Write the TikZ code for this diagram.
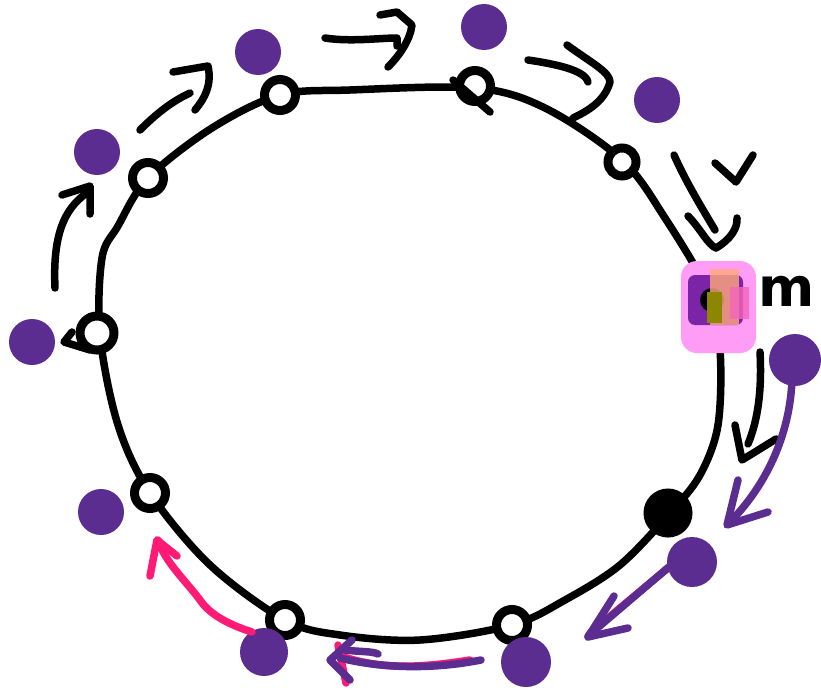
\documentclass[tikz,border=0pt]{standalone}
\usepackage{fontspec}
\setmainfont{DejaVu Sans}
\definecolor{blobc}{HTML}{5B2D91}
\definecolor{hotpink}{HTML}{FF1A75}
\definecolor{hilite}{HTML}{FF9CF5}
\begin{document}
\begin{tikzpicture}[x=1pt,y=-1pt,
  pen/.style={line width=7.5pt,line cap=round,line join=round},
  ink/.style={pen,black},
  vio/.style={pen,blobc},
  pinkpen/.style={pen,hotpink},
  stop/.style={circle,draw=black,line width=9pt,minimum size=31pt,inner sep=0pt,fill=white},
  blob/.style={circle,fill=blobc,minimum size=46pt,inner sep=0pt},
]
\useasboundingbox (0,0) rectangle (821,690);
\fill[white] (0,0) rectangle (821,690);

% ring
\draw[ink] plot[smooth cycle,tension=0.55] coordinates {
 (148,178) (212,128) (280,95) (350,90) (475,88) (545,108) (622,160)
 (665,218) (708,292) (720,350) (718,425) (700,475) (670,513)
 (620,565) (565,600) (512,625) (420,640) (340,635) (285,620)
 (210,565) (150,493) (118,425) (100,335) (102,258) (118,226)};

% highlight of stop m
\fill[hilite,rounded corners=16pt] (681,261) rectangle (756,353);
\fill[blobc!80!magenta,rounded corners=7pt] (688,275) rectangle (743,325);
\fill[black] (712,300) circle (12pt);
\fill[orange!35!pink,opacity=0.8] (710,269) rectangle (739,325);
\fill[olive] (707,292) rectangle (722,323);
\fill[magenta!60,opacity=0.8] (730,287) rectangle (749,319);
\node[font=\fontsize{54}{54}\selectfont\bfseries,inner sep=0pt] (mlabel) at (787,291) {m};

% stops on the ring
\node[stop] (s1) at (148,178) {};
\node[stop] (s2) at (280,95) {};
\node[stop] (s3) at (475,86) {};
\node[stop,minimum size=28pt] (s4) at (622,162) {};
\node[stop,fill=black,minimum size=40pt] (s6) at (668,513) {};
\node[stop] (s7) at (512,625) {};
\node[stop] (s8) at (285,620) {};
\node[stop] (s9) at (150,493) {};
\node[stop,minimum size=34pt] (s10) at (97,333) {};
\coordinate (s5) at (712,298);

% purple blobs
\node[blob] (b1) at (97,152) {};
\node[blob] (b2) at (258,52) {};
\node[blob] (b3) at (484,27) {};
\node[blob] (b4) at (657,100) {};
\node[blob] (b5) at (32,342) {};
\node[blob] (b6) at (101,512) {};
\node[blob,minimum size=52pt] (b7) at (795,360) {};
\node[blob,minimum size=50pt] (b8) at (692,562) {};
\node[blob,minimum size=50pt] (b9) at (526,662) {};
\node[blob,minimum size=48pt] (b10) at (264,652) {};

% black arrows along the top
\draw[ink] (55,288) .. controls (52,225) and (70,205) .. (88,192);
\draw[ink] (62,195) -- (90,186) -- (90,214);
\draw[ink] (140,130) .. controls (160,110) and (175,100) .. (190,93);
\draw[ink] (173,72) -- (208,66) .. controls (212,85) and (205,98) .. (195,110);
\draw[ink] (325,38) .. controls (350,42) and (380,38) .. (397,38) -- (397,46);
\draw[ink] (380,15) -- (397,12) -- (412,25) .. controls (410,40) and (400,55) .. (388,67);
\draw[ink] (528,60) .. controls (555,64) and (585,70) .. (588,82);
\draw[ink] (567,45) .. controls (590,62) and (610,72) .. (610,82) .. controls (605,100) and (590,110) .. (573,118);
\draw[ink] (453,80) -- (490,112);
\draw[ink] (674,155) .. controls (685,180) and (700,205) .. (715,230);
\draw[ink] (688,216) .. controls (700,228) and (708,245) .. (716,248) .. controls (730,240) and (738,228) .. (737,218);
\draw[ink] (715,163) -- (736,182) -- (753,155);

% black arrow on the right
\draw[ink] (760,352) .. controls (762,390) and (758,420) .. (748,444);
\draw[ink] (735,425) -- (742,460) -- (776,439);

% left small hook
\draw[ink] (72,332) -- (64,342) -- (90,350);

% purple arrows
\draw[vio] (792,380) .. controls (790,430) and (770,480) .. (732,520);
\draw[vio] (738,480) -- (727,525) -- (768,512);
\draw[pinkpen] (668,568) -- (590,633);
\draw[vio] (670,566) -- (588,636);
\draw[vio] (614,596) -- (588,637) -- (628,628);

% bottom arrow
\draw[pinkpen] (470,660) .. controls (420,668) and (380,670) .. (338,655);
\draw[pinkpen] (338,645) -- (346,683);
\draw[vio] (481,660) .. controls (430,670) and (380,668) .. (340,658);
\draw[vio] (352,640) -- (330,660) -- (350,680);
\draw[vio] (345,650) .. controls (360,652) and (372,651) .. (378,654);

% pink arrow lower left
\draw[pinkpen] (252,632) .. controls (230,625) and (210,615) .. (200,600) .. controls (185,580) and (165,562) .. (158,540);
\draw[pinkpen] (150,576) -- (157,540) -- (177,556);
\end{tikzpicture}
\end{document}
